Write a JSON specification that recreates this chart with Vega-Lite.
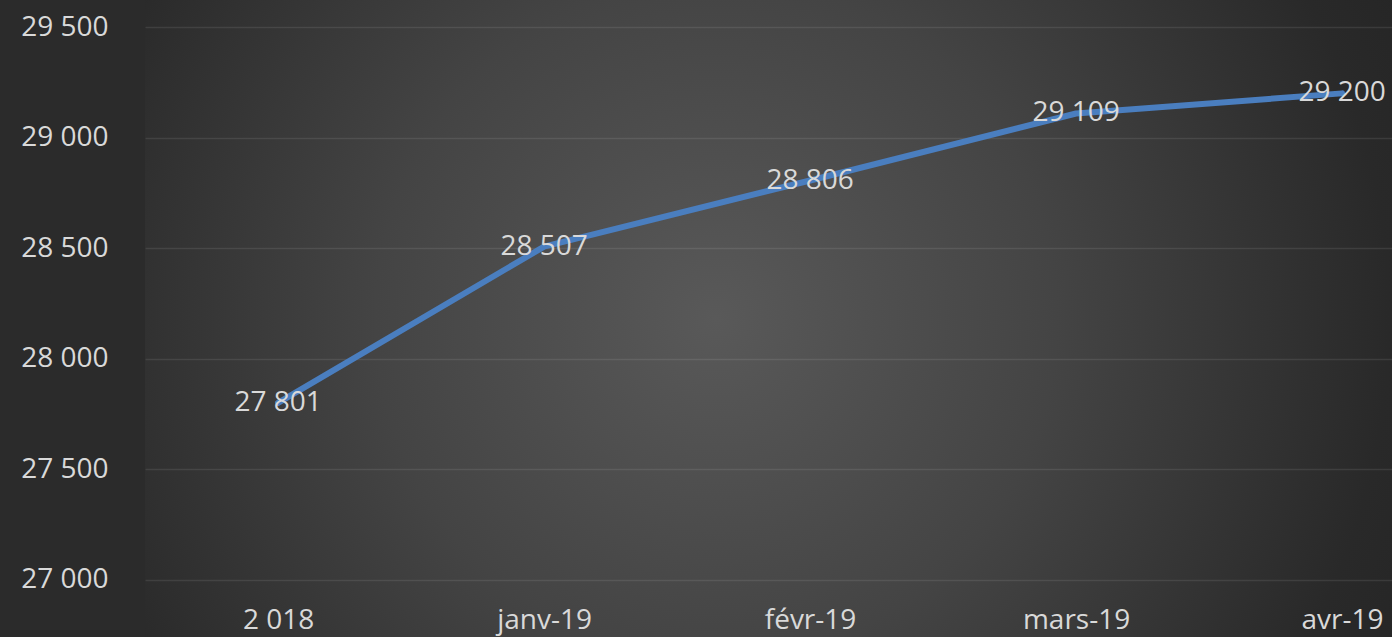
{
  "$schema": "https://vega.github.io/schema/vega-lite/v6.json",
  "width": 1247,
  "height": 637,
  "autosize": {"type": "none"},
  "padding": {"left": 145, "top": 0, "right": 0, "bottom": 0},
  "background": "#2b2b2b",
  "view": {
    "stroke": null,
    "fill": {
      "gradient": "radial",
      "x1": 0.458, "y1": 0.5, "r1": 0,
      "x2": 0.458, "y2": 0.5, "r2": 0.65,
      "stops": [
        {"offset": 0, "color": "#595959"},
        {"offset": 0.42, "color": "#444444"},
        {"offset": 0.83, "color": "#292929"},
        {"offset": 1, "color": "#242424"}
      ]
    }
  },
  "config": {
    "locale": {
      "number": {"decimal": ",", "thousands": " ", "grouping": [3], "currency": ["", " €"]}
    },
    "font": "Open Sans"
  },
  "data": {
    "values": [
      {"periode": "2 018", "valeur": 27801},
      {"periode": "janv-19", "valeur": 28507},
      {"periode": "févr-19", "valeur": 28806},
      {"periode": "mars-19", "valeur": 29109},
      {"periode": "avr-19", "valeur": 29200}
    ]
  },
  "encoding": {
    "x": {
      "field": "periode",
      "type": "nominal",
      "sort": null,
      "scale": {"type": "point", "padding": 0.344, "align": 0.727},
      "axis": {
        "title": null,
        "orient": "bottom",
        "offset": -57,
        "domain": false,
        "ticks": false,
        "grid": false,
        "labelAngle": 0,
        "labelFont": "Open Sans",
        "labelFontSize": 28,
        "labelColor": "#d9d9d9",
        "labelBaseline": "middle",
        "labelPadding": 40
      }
    },
    "y": {
      "field": "valeur",
      "type": "quantitative",
      "scale": {"domain": [26742.3, 29622.1], "nice": false, "zero": false},
      "axis": {
        "title": null,
        "values": [27000, 27500, 28000, 28500, 29000, 29500],
        "format": ",d",
        "domain": false,
        "ticks": false,
        "grid": true,
        "gridColor": "#ffffff",
        "gridOpacity": 0.09,
        "gridWidth": 1.5,
        "labelFont": "Open Sans",
        "labelFontSize": 28,
        "labelColor": "#d9d9d9",
        "labelPadding": 37,
        "labelBaseline": "middle"
      }
    }
  },
  "layer": [
    {
      "mark": {"type": "line", "color": "#4a7ebf", "strokeWidth": 6, "strokeCap": "round", "strokeJoin": "round"}
    },
    {
      "mark": {"type": "text", "font": "Open Sans", "fontSize": 28, "color": "#d9d9d9", "align": "center", "baseline": "middle"},
      "encoding": {
        "text": {"field": "valeur", "type": "quantitative", "format": ",d"}
      }
    }
  ]
}
